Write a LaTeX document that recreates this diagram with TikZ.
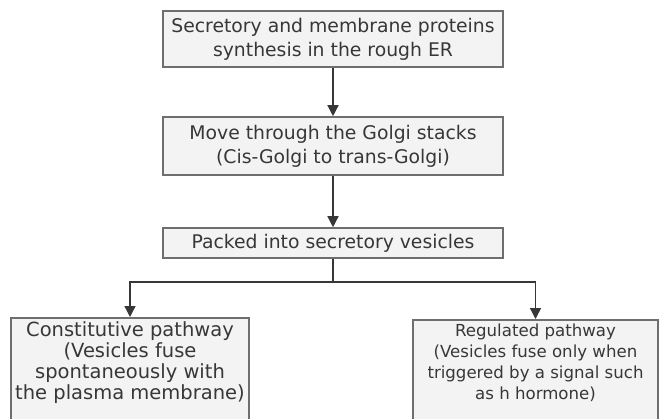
\documentclass[tikz,border=0pt]{standalone}
\usepackage{fontspec}
\setmainfont{DejaVu Sans}
\usepackage{tikz}
\usetikzlibrary{arrows.meta}
\definecolor{boxline}{RGB}{110, 110, 110}
\definecolor{boxfill}{RGB}{243, 243, 243}
\definecolor{inkgray}{RGB}{55, 55, 55}

\tikzset{
  stagebox/.style={draw=boxline, fill=boxfill, line width=1.6pt, align=center,
    text=inkgray, inner xsep=0pt, inner ysep=4pt, font=\fontsize{18.8}{24}\selectfont},
  flowarrow/.style={draw=inkgray, line width=1.4pt, -{Triangle[width=11pt,length=11pt]}},
  flowline/.style={draw=inkgray, line width=1.4pt}
}

\begin{document}
\begin{tikzpicture}[x=1pt, y=-1pt]
    \useasboundingbox (0,0) rectangle (663,418);
    \clip (0,0) rectangle (663,418);
    \node[stagebox, minimum width=340pt, minimum height=56pt] (er) at (333,39)
        {Secretory and membrane proteins\\synthesis in the rough ER};
    \node[stagebox, minimum width=340pt, minimum height=58pt] (golgi) at (333,146)
        {Move through the Golgi stacks\\(Cis-Golgi to trans-Golgi)};
    \node[stagebox, minimum width=340pt, minimum height=30pt] (packed) at (333,243)
        {Packed into secretory vesicles};
    \node[stagebox, anchor=north, minimum width=238pt, font=\fontsize{19.5}{21}\selectfont] (constit) at (130,317)
        {Constitutive pathway\\(Vesicles fuse\\spontaneously with\\the plasma membrane)\rule[-30pt]{0pt}{0pt}};
    \node[stagebox, anchor=north, minimum width=245pt, font=\fontsize{16.6}{21}\selectfont] (regul) at (535.5,319)
        {Regulated pathway\\(Vesicles fuse only when\\triggered by a signal such\\as h hormone)\rule[-30pt]{0pt}{0pt}};
    \coordinate (fork) at (333,282);
    \draw[flowarrow] (er) -- (golgi);
    \draw[flowarrow] (golgi) -- (packed);
    \draw[flowline] (packed) -- (fork);
    \draw[flowarrow] (fork) -| (constit);
    \draw[flowarrow] (fork) -| (regul);
\end{tikzpicture}
\end{document}
